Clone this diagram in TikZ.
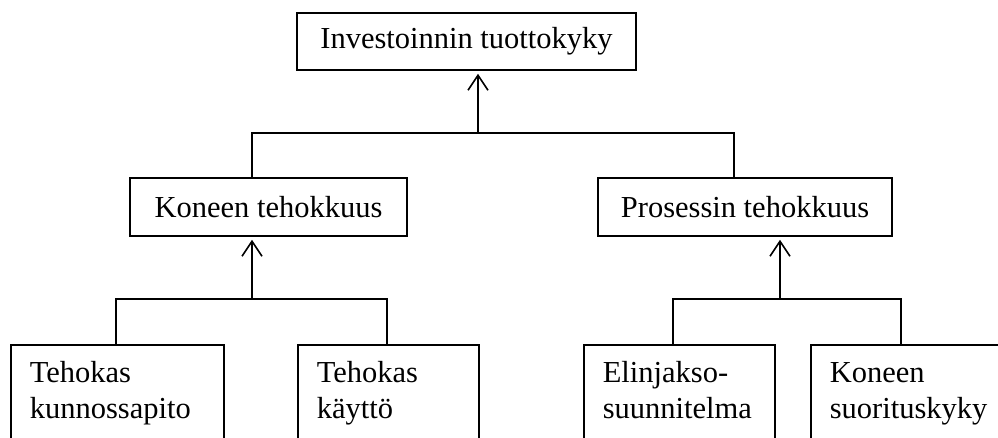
\documentclass[tikz,border=0pt]{standalone}
\usepackage{fontspec}
\setmainfont{Liberation Serif}
\usetikzlibrary{arrows.meta}
\begin{document}
\begin{tikzpicture}[x=1pt,y=-1pt,
  line width=1.6pt,
  box/.style={draw, rectangle, inner sep=0pt, font=\fontsize{30.5}{36}\selectfont},
  leaf/.style={draw, rectangle, anchor=north west, inner xsep=19pt, inner ysep=0pt,
    text height=22pt, text depth=42.5pt,
    minimum height=96pt, align=left, font=\fontsize{30.5}{35.5}\selectfont},
  arr/.style={-{Straight Barb[length=15pt,width=20pt,line width=1.6pt]}, shorten >=3pt}]
\useasboundingbox (0,0) rectangle (998,437);
\clip (0,0) rectangle (998,437);
% top
\node[box, minimum width=339pt, minimum height=57pt] (top) at (466.5,41.5) {Investoinnin tuottokyky};
% middle
\node[box, minimum width=277pt, minimum height=58pt] (mk) at (268.5,207) {Koneen tehokkuus};
\node[box, minimum width=294pt, minimum height=58pt] (pt) at (745,207) {Prosessin tehokkuus};
% leaves
\node[leaf, text width=175pt] (tk) at (10,344) {Tehokas\\kunnossapito};
\node[leaf, text width=143pt] (tka) at (297,344) {Tehokas\\käyttö};
\node[leaf, text width=153pt] (el) at (583,344) {Elinjakso-\\suunnitelma};
\node[leaf, text width=162pt] (ks) at (810,344) {Koneen\\suorituskyky};
% level 1 connectors
\coordinate (j1l) at (252,133);
\coordinate (j1r) at (734,133);
\coordinate (j1) at (478,133);
\draw (j1l |- mk.north) -- (j1l) -- (j1r) -- (j1r |- pt.north);
\draw[arr] (j1) -- (j1 |- top.south);
% level 2 left
\coordinate (j2l) at (116,299);
\coordinate (j2r) at (387,299);
\coordinate (j2) at (252,299);
\draw (j2l |- tk.north) -- (j2l) -- (j2r) -- (j2r |- tka.north);
\draw[arr] (j2) -- (j2 |- mk.south);
% level 2 right
\coordinate (j3l) at (673,299);
\coordinate (j3r) at (901,299);
\coordinate (j3) at (780,299);
\draw (j3l |- el.north) -- (j3l) -- (j3r) -- (j3r |- ks.north);
\draw[arr] (j3) -- (j3 |- pt.south);
\end{tikzpicture}
\end{document}
